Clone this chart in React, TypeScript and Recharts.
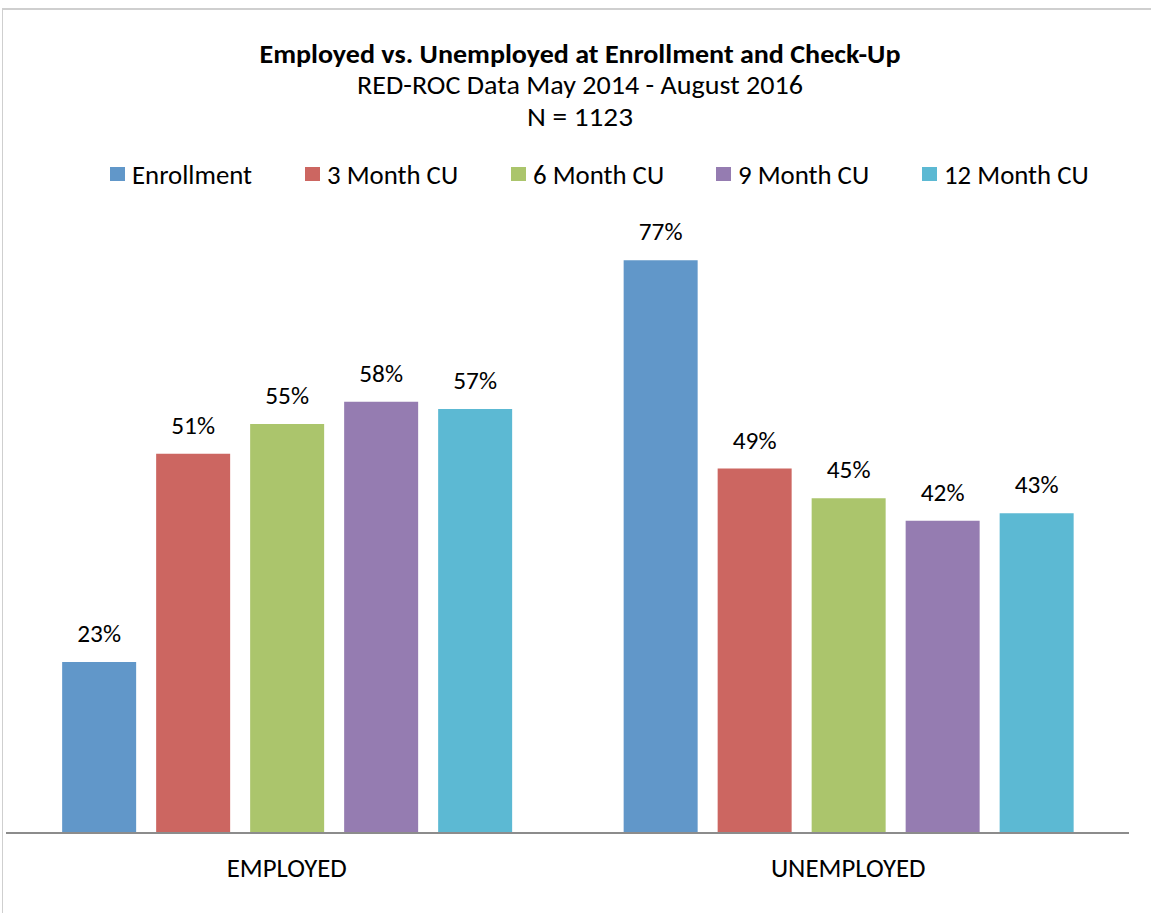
import React from 'react';
import { BarChart, Bar, XAxis, YAxis, LabelList } from 'recharts';

const categories = ['EMPLOYED', 'UNEMPLOYED'];
const seriesNames = ['Enrollment', '3 Month CU', '6 Month CU', '9 Month CU', '12 Month CU'];
const enrollment = [23, 77];
const month3 = [51, 49];
const month6 = [55, 45];
const month9 = [58, 42];
const month12 = [57, 43];
const seriesValues = [enrollment, month3, month6, month9, month12];
const seriesKeys = ['enrollment', 'month3', 'month6', 'month9', 'month12'];
const colors = ['#6197C9', '#CC6661', '#ABC56C', '#957CB1', '#5CB9D3'];
const legendLefts = [110, 305, 511, 716, 922];

const titleText = 'Employed vs. Unemployed at Enrollment and Check-Up';
const subtitleText = 'RED-ROC Data May 2014 - August 2016';
const nText = 'N = 1123';

const data = categories.map((c, i) => {
  const row: Record<string, string | number> = { name: c };
  seriesKeys.forEach((k, j) => {
    row[k] = seriesValues[j][i];
  });
  return row;
});

const FONT = "Carlito, 'Open Sans', 'Noto Sans', sans-serif";

export default function App() {
  return (
    <div style={{ position: 'absolute', left: 0, top: 0, width: 1151, height: 913, overflow: 'hidden', background: '#fff', fontFamily: FONT }}>
      <div style={{ position: 'absolute', left: 2, top: 8, width: 1300, height: 1100, borderTop: '2px solid #cfcfcf', borderLeft: '1px solid #cfcfcf' }} />
      <svg width={1151} height={200} style={{ position: 'absolute', left: 0, top: 0 }}>
        <text x={580} y={63} textAnchor="middle" fontFamily={FONT} fontWeight="bold" fontSize={26.5} fill="#000" textLength={641} lengthAdjust="spacingAndGlyphs">{titleText}</text>
        <text x={580} y={94} textAnchor="middle" fontFamily={FONT} fontSize={26.5} fill="#000" textLength={446} lengthAdjust="spacingAndGlyphs">{subtitleText}</text>
        <text x={580} y={126} textAnchor="middle" fontFamily={FONT} fontSize={26.5} fill="#000" textLength={106} lengthAdjust="spacingAndGlyphs">{nText}</text>
      </svg>
      {seriesNames.map((n, i) => (
        <div key={n} style={{ position: 'absolute', left: legendLefts[i], top: 158, height: 32, display: 'flex', alignItems: 'center', fontSize: 26.8, color: '#000', fontFamily: FONT, whiteSpace: 'nowrap' }}>
          <span style={{ display: 'inline-block', width: 15, height: 14, background: colors[i], marginRight: 7 }} />
          <span>{n}</span>
        </div>
      ))}
      <div style={{ position: 'absolute', left: 0, top: 0 }}>
        <BarChart width={1151} height={913} data={data} margin={{ top: 238, right: 22, bottom: 20, left: 6 }} barCategoryGap="10%" barGap={20}>
          <XAxis dataKey="name" height={60} axisLine={{ stroke: '#8c8c8c', strokeWidth: 2 }} tickLine={false} tickMargin={19} tick={{ fontSize: 26.8, fill: '#000', fontFamily: FONT }} />
          <YAxis hide domain={[0, 80]} />
          {seriesKeys.map((k, i) => (
            <Bar key={k} dataKey={k} name={seriesNames[i]} fill={colors[i]} isAnimationActive={false}>
              <LabelList dataKey={k} position="top" offset={20} fill="#000" fontSize={25.3} fontFamily={FONT} formatter={(v: number) => `${v}%`} />
            </Bar>
          ))}
        </BarChart>
      </div>
    </div>
  );
}
